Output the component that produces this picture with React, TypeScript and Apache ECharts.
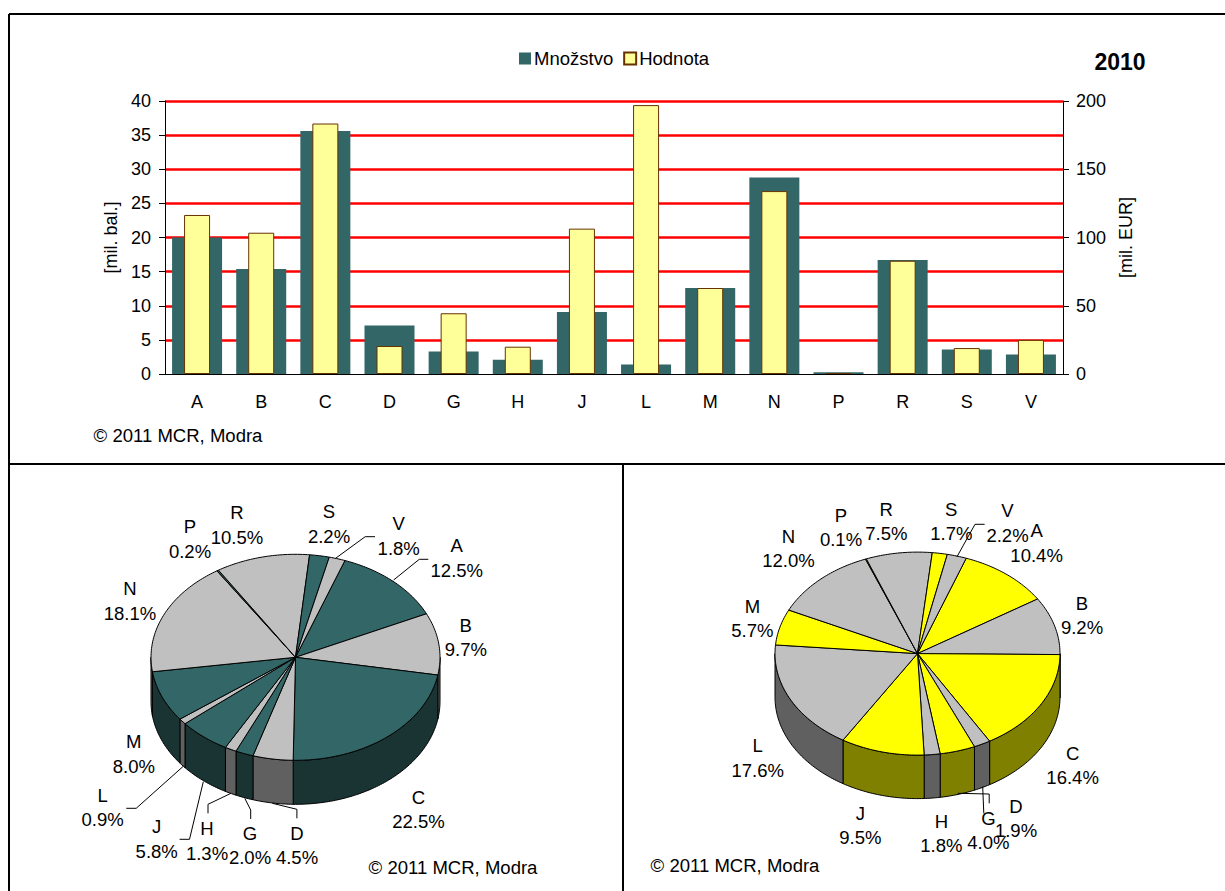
import React, { useEffect, useRef } from "react";
import * as echarts from "echarts";

const categories = ["A", "B", "C", "D", "G", "H", "J", "L", "M", "N", "P", "R", "S", "V"];
const quantity = [20, 15.4, 35.6, 7.1, 3.3, 2.1, 9.1, 1.4, 12.6, 28.8, 0.25, 16.7, 3.6, 2.85];
const value = [116.5, 103.5, 183.5, 20.5, 44.5, 20, 106.5, 197, 63, 134, 0.7, 83, 19, 25];
const shareQuantity = [12.5, 9.7, 22.5, 4.5, 2.0, 1.3, 5.8, 0.9, 8.0, 18.1, 0.2, 10.5, 2.2, 1.8];
const shareValue = [10.4, 9.2, 16.4, 1.9, 4.0, 1.8, 9.5, 17.6, 5.7, 12.0, 0.1, 7.5, 1.7, 2.2];

const FONT = "'Liberation Sans', Arial, sans-serif";
const FS = 18;
const AXIS_FS = 18;
const STRETCH = 1.03;
const copyright = "© 2011 MCR, Modra";

type Pie = {
  cx: number; cy: number; rx: number; ry: number; h: number;
  top: string; side: string; grey: string; greySide: string; start: number;
};
const pieQ: Pie = { cx: 295.5, cy: 657.3, rx: 144.5, ry: 103, h: 44, top: "#336666", side: "#1a3333", grey: "#c0c0c0", greySide: "#606060", start: 20 };
const pieV: Pie = { cx: 917.5, cy: 653.6, rx: 142.5, ry: 101.5, h: 43.5, top: "#ffff00", side: "#808000", grey: "#c0c0c0", greySide: "#606060", start: 20 };

const labelPosQ = [[456.8,558],[465.8,637.5],[418.5,809.5],[297,845.5],[250,845.5],[207,841],[156.7,839],[102.6,807.5],[133.8,754],[130,601],[190,539],[237,525],[329,524],[398.7,536]];
const labelPosV = [[1036.6,543],[1082,615.5],[1072.6,765.5],[1016,818.7],[988.4,830.5],[941.4,833.7],[860.3,825.5],[757.7,758],[752.4,618.5],[788.4,548.7],[841,527.5],[886.3,521.5],[951.3,521.5],[1007.5,523]];
const leadersQ = [[[335.6,558.3],[365.2,536.7],[375,536.7]],[[393.6,580],[419.3,559.3],[428.3,559.3]],[[183.6,766],[136.2,808.3],[126.3,808.3]],[[203.3,781.7],[189.5,839.3],[179.6,839.3]],[[231,793.3],[208,804.3],[208,813.3]],[[244.8,798.3],[250.7,810],[250.7,819]],[[272.4,803.3],[296.9,809.3],[296.9,818.3]]];
const leadersV = [[[957,556.7],[975,524.3],[984.6,524.3]],[[957.8,793.3],[989.2,794],[989.2,803.3]],[[982.7,786.7],[983.8,813.3]]];

function pt(p: Pie, deg: number, dy = 0) {
  const a = (deg * Math.PI) / 180;
  return [p.cx + p.rx * Math.sin(a), p.cy - p.ry * Math.cos(a) + dy];
}
function arc(p: Pie, a: number, b: number, dy = 0) {
  const out: number[][] = [];
  for (let d = a; d < b; d += 1) out.push(pt(p, d, dy));
  out.push(pt(p, b, dy));
  return out;
}

function pieSeries(p: Pie, shares: number[]) {
  const total = shares.reduce((s, v) => s + v, 0);
  return {
    type: "custom",
    coordinateSystem: "none",
    silent: true,
    data: shares.map((v) => [v]),
    renderItem: (params: any, api: any) => {
      const i = params.dataIndex;
      const before = shares.slice(0, i).reduce((s, v) => s + v, 0);
      const a0 = p.start + (before / total) * 360;
      const a1 = a0 + (api.value(0) / total) * 360;
      const isGrey = i % 2 === 1;
      const children: any[] = [];
      const fa = Math.max(a0, 90), fb = Math.min(a1, 270);
      const addWall = (u: number, v: number) => {
        if (u < v) children.push({
          type: "polygon",
          shape: { points: [...arc(p, u, v), ...arc(p, u, v, p.h).reverse()] },
          style: { fill: isGrey ? p.greySide : p.side, stroke: "#000", lineWidth: 1 },
        });
      };
      addWall(fa, fb);
      children.push({
        type: "polygon",
        shape: { points: [[p.cx, p.cy], ...arc(p, a0, a1)] },
        style: { fill: isGrey ? p.grey : p.top, stroke: "#000", lineWidth: 1 },
      });
      return { type: "group", children };
    },
  };
}

function labels(shares: number[], pos: number[][]) {
  return categories.map((c, i) => ({
    type: "text",
    x: pos[i][0],
    y: pos[i][1],
    scaleX: STRETCH,
    z: 20,
    style: { text: `${c}\n${shares[i].toFixed(1)}%`, font: `${FS}px ${FONT}`, fill: "#000", textAlign: "center", textVerticalAlign: "middle", lineHeight: 24.5 },
  }));
}
function leaderLines(list: number[][][]) {
  return list.map((points) => ({
    type: "polyline", z: 19, shape: { points }, style: { stroke: "#000", lineWidth: 1, fill: "none" },
  }));
}
const frame = (x1: number, y1: number, x2: number, y2: number) => ({
  type: "line", z: 30, shape: { x1, y1, x2, y2 }, style: { stroke: "#000", lineWidth: 2 },
});
const plainText = (text: string, x: number, y: number) => ({
  type: "text", x, y, z: 20, scaleX: STRETCH,
  style: { text, font: `${FS}px ${FONT}`, fill: "#000", textAlign: "center", textVerticalAlign: "middle" },
});

export default function App() {
  const ref = useRef<HTMLDivElement>(null);
  useEffect(() => {
    const chart = echarts.init(ref.current!, undefined, { renderer: "svg" });
    const axisFont = { fontFamily: FONT, fontSize: AXIS_FS, color: "#000" };
    chart.setOption({
      animation: false,
      backgroundColor: "#fff",
      legend: {
        left: 514, top: 44, itemWidth: 12, itemHeight: 12, itemGap: 10, icon: "rect",
        textStyle: { ...axisFont, fontSize: 18.5, padding: [0, 0, 0, -2] },
        data: ["Množstvo", "Hodnota"],
      },
      grid: { left: 165, right: 162, top: 101, bottom: 517 },
      xAxis: [
        { type: "category", data: categories, axisLine: { lineStyle: { color: "#000" } },
          axisTick: { length: 6, lineStyle: { color: "#000" } }, axisLabel: { ...axisFont, margin: 19 } },
        { type: "category", data: categories, show: false },
      ],
      yAxis: [
        { type: "value", min: 0, max: 40, interval: 5, name: "[mil. bal.]", nameLocation: "middle", nameGap: 45,
          nameTextStyle: axisFont, axisLine: { show: true, lineStyle: { color: "#000" } },
          axisTick: { show: true, length: 6, lineStyle: { color: "#000" } }, axisLabel: { ...axisFont, margin: 14 },
          splitLine: { show: true, showMinLine: false, lineStyle: { color: "#ff0000", width: 2.5 } } },
        { type: "value", min: 0, max: 200, interval: 50, position: "right", name: "[mil. EUR]", nameLocation: "middle", nameGap: 51,
          nameTextStyle: axisFont, axisLine: { show: true, lineStyle: { color: "#000" } },
          axisTick: { show: true, length: 6, lineStyle: { color: "#000" } }, axisLabel: { ...axisFont, margin: 13 },
          splitLine: { show: false } },
      ],
      series: [
        { name: "Množstvo", type: "bar", xAxisIndex: 0, yAxisIndex: 0, barWidth: 50, data: quantity, itemStyle: { color: "#336666" } },
        { name: "Hodnota", type: "bar", xAxisIndex: 1, yAxisIndex: 1, barWidth: 26, data: value, z: 3, itemStyle: { color: "#ffff99", borderColor: "#663300", borderWidth: 1 } },
        pieSeries(pieQ, shareQuantity),
        pieSeries(pieV, shareValue),
      ],
      graphic: [
        frame(9, 14, 1225, 14), frame(9, 14, 9, 891), frame(9, 464, 1225, 464), frame(623, 464, 623, 891),
        { type: "text", x: 1120, y: 62, z: 20, style: { text: "2010", font: `bold 23px ${FONT}`, fill: "#000", textAlign: "center", textVerticalAlign: "middle" } },
        plainText(copyright, 178, 436), plainText(copyright, 453, 867.5), plainText(copyright, 735, 865.7),
        ...labels(shareQuantity, labelPosQ), ...labels(shareValue, labelPosV),
        ...leaderLines(leadersQ), ...leaderLines(leadersV),
      ],
    });
    return () => chart.dispose();
  }, []);
  return <div ref={ref} style={{ position: "absolute", left: 0, top: 0, width: 1225, height: 891 }} />;
}
